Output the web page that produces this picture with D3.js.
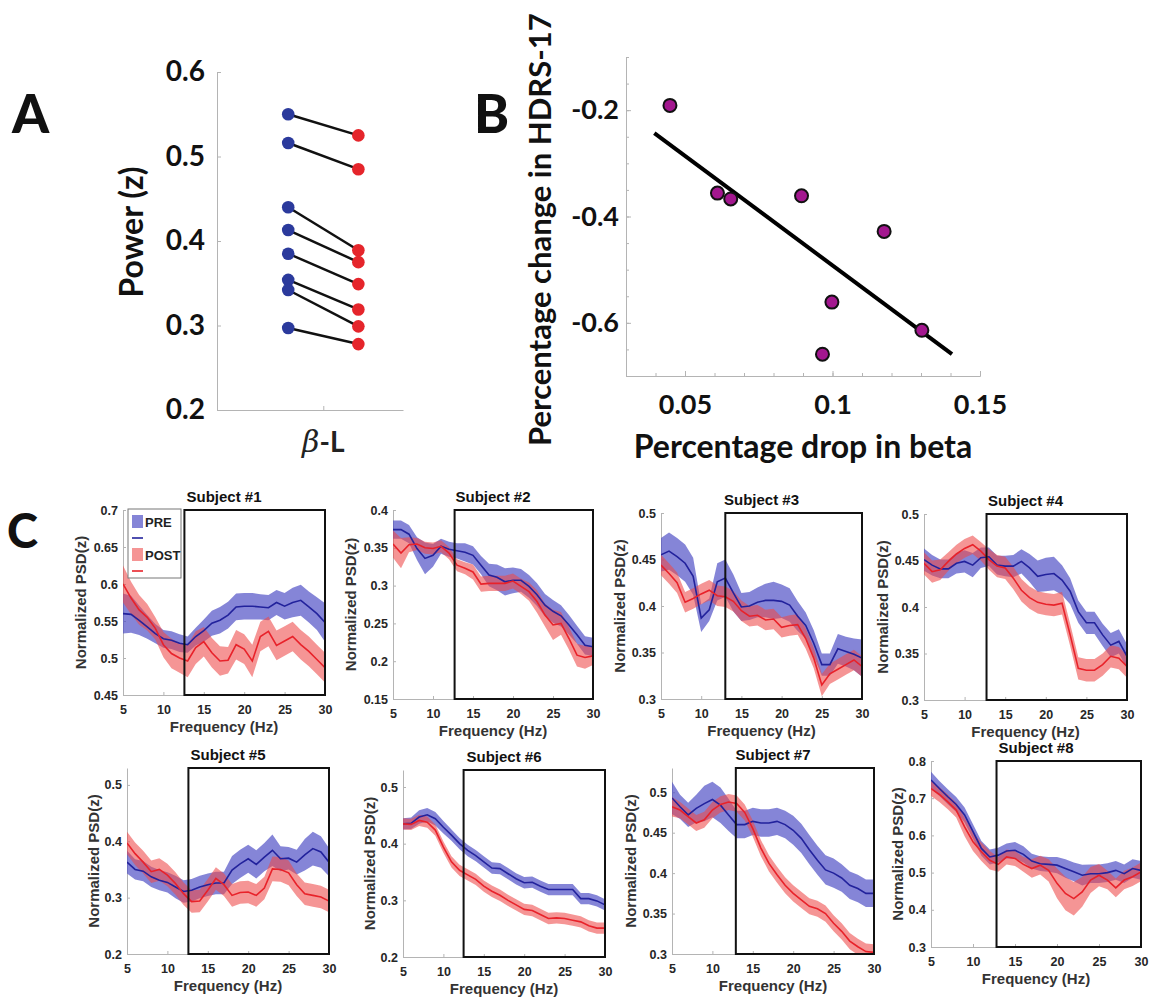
<!DOCTYPE html>
<html>
<head>
<meta charset="utf-8">
<script src="https://cdn.jsdelivr.net/npm/d3@7"></script>
<style>
  body { margin: 0; background: #fff; }
</style>
</head>
<body>
<svg id="fig" width="1150" height="998"></svg>
<script>
// ---- panel A: beta-L power, pre vs post ----
var powerTicks = [0.2, 0.3, 0.4, 0.5, 0.6];
var conditionX = [0.67, 1.33];   // PRE, POST positions around the beta-L category
var preBeta  = [0.550, 0.516, 0.440, 0.413, 0.385, 0.354, 0.342, 0.297];
var postBeta = [0.525, 0.485, 0.389, 0.375, 0.349, 0.319, 0.299, 0.278];

// ---- panel B: correlation ----
var betaDrop   = [0.0449, 0.0610, 0.0655, 0.0895, 0.1175, 0.0998, 0.1303, 0.0966];
var hdrsChange = [-0.191, -0.356, -0.367, -0.361, -0.428, -0.561, -0.614, -0.659];
var fitX = [0.0396, 0.1405];
var fitY = [-0.243, -0.659];
var betaTicks = [0.05, 0.1, 0.15];
var betaMinor = [0.03, 0.04, 0.05, 0.06, 0.07, 0.08, 0.09, 0.1, 0.11, 0.12, 0.13, 0.14, 0.15];
var hdrsTicks = [-0.6, -0.4, -0.2];
var hdrsMinor = [-0.7, -0.65, -0.6, -0.55, -0.5, -0.45, -0.4, -0.35, -0.3, -0.25, -0.2, -0.15, -0.1];

// ---- panel C: PSD per subject ----
var freqs = [5, 6, 7, 8, 9, 10, 11, 12, 13, 14, 15, 16, 17, 18, 19, 20, 21, 22, 23, 24, 25, 26, 27, 28, 29, 30];
var freqTicks = [5, 10, 15, 20, 25, 30];

var pre1 = [0.560,0.559,0.551,0.542,0.533,0.526,0.524,0.520,0.518,0.529,0.537,0.547,0.551,0.558,0.569,0.570,0.570,0.569,0.568,0.575,0.570,0.575,0.578,0.569,0.560,0.548];
var pre1Err = [0.027,0.025,0.020,0.016,0.013,0.012,0.012,0.012,0.011,0.012,0.015,0.017,0.018,0.018,0.018,0.018,0.018,0.017,0.017,0.017,0.018,0.020,0.021,0.021,0.022,0.026];
var post1 = [0.600,0.581,0.565,0.555,0.540,0.518,0.506,0.500,0.496,0.514,0.522,0.507,0.496,0.497,0.518,0.512,0.496,0.529,0.536,0.517,0.523,0.529,0.518,0.509,0.498,0.487];
var post1Err = [0.025,0.022,0.020,0.018,0.015,0.017,0.020,0.020,0.022,0.022,0.020,0.020,0.020,0.018,0.020,0.020,0.022,0.020,0.020,0.020,0.020,0.020,0.020,0.020,0.020,0.020];

var pre2 = [0.374,0.374,0.368,0.349,0.336,0.340,0.352,0.348,0.346,0.344,0.340,0.327,0.314,0.311,0.305,0.307,0.307,0.299,0.288,0.274,0.266,0.260,0.248,0.235,0.221,0.219];
var pre2Err = [0.012,0.012,0.012,0.015,0.021,0.015,0.010,0.010,0.010,0.012,0.012,0.012,0.015,0.017,0.018,0.017,0.015,0.015,0.015,0.015,0.015,0.014,0.013,0.012,0.012,0.012];
var post2 = [0.355,0.343,0.354,0.355,0.350,0.349,0.352,0.343,0.327,0.323,0.318,0.302,0.303,0.303,0.303,0.306,0.299,0.292,0.279,0.261,0.248,0.250,0.230,0.208,0.205,0.207];
var post2Err = [0.018,0.020,0.010,0.008,0.008,0.008,0.008,0.008,0.008,0.008,0.010,0.010,0.010,0.010,0.010,0.010,0.010,0.012,0.015,0.015,0.020,0.015,0.015,0.015,0.015,0.012];

var pre3 = [0.455,0.459,0.453,0.446,0.432,0.387,0.396,0.426,0.430,0.414,0.399,0.400,0.404,0.406,0.406,0.405,0.401,0.389,0.379,0.360,0.337,0.337,0.354,0.351,0.348,0.344];
var pre3Err = [0.018,0.020,0.020,0.020,0.020,0.015,0.012,0.020,0.020,0.020,0.015,0.015,0.016,0.018,0.020,0.018,0.018,0.016,0.014,0.014,0.012,0.012,0.016,0.016,0.017,0.020];
var post3 = [0.444,0.435,0.425,0.404,0.408,0.413,0.417,0.411,0.410,0.405,0.395,0.389,0.390,0.385,0.386,0.377,0.379,0.380,0.365,0.344,0.315,0.327,0.332,0.337,0.342,0.335];
var post3Err = [0.011,0.011,0.011,0.011,0.011,0.011,0.011,0.011,0.011,0.011,0.011,0.011,0.011,0.011,0.011,0.011,0.011,0.011,0.011,0.011,0.012,0.011,0.011,0.011,0.011,0.011];

var pre4 = [0.451,0.445,0.441,0.441,0.447,0.449,0.445,0.453,0.454,0.445,0.444,0.444,0.449,0.442,0.433,0.435,0.436,0.429,0.417,0.395,0.383,0.383,0.370,0.359,0.363,0.347];
var pre4Err = [0.012,0.011,0.010,0.010,0.011,0.012,0.013,0.011,0.010,0.010,0.011,0.012,0.013,0.015,0.017,0.018,0.018,0.016,0.014,0.012,0.012,0.012,0.012,0.013,0.013,0.013];
var post4 = [0.447,0.438,0.440,0.449,0.457,0.463,0.467,0.460,0.451,0.444,0.442,0.431,0.418,0.410,0.405,0.403,0.402,0.404,0.370,0.334,0.332,0.332,0.338,0.347,0.345,0.336];
var post4Err = [0.012,0.012,0.011,0.010,0.010,0.010,0.010,0.010,0.011,0.012,0.012,0.012,0.012,0.012,0.012,0.012,0.012,0.012,0.012,0.012,0.012,0.012,0.012,0.012,0.012,0.012];

var pre5 = [0.363,0.350,0.347,0.337,0.331,0.327,0.319,0.311,0.313,0.319,0.323,0.326,0.326,0.349,0.360,0.369,0.359,0.372,0.384,0.369,0.370,0.363,0.376,0.387,0.381,0.363];
var pre5Err = [0.020,0.018,0.018,0.018,0.018,0.018,0.020,0.020,0.020,0.020,0.020,0.020,0.020,0.025,0.025,0.025,0.025,0.025,0.028,0.022,0.020,0.022,0.028,0.030,0.028,0.025];
var post5 = [0.397,0.378,0.363,0.346,0.350,0.340,0.325,0.307,0.293,0.294,0.313,0.334,0.323,0.304,0.309,0.310,0.304,0.317,0.351,0.350,0.344,0.323,0.307,0.304,0.301,0.294];
var post5Err = [0.020,0.020,0.020,0.020,0.020,0.020,0.020,0.020,0.020,0.020,0.020,0.020,0.020,0.020,0.020,0.020,0.020,0.020,0.022,0.022,0.022,0.020,0.020,0.020,0.020,0.020];

var pre6 = [0.435,0.436,0.447,0.451,0.444,0.429,0.415,0.400,0.388,0.379,0.368,0.357,0.356,0.347,0.338,0.331,0.332,0.325,0.319,0.319,0.319,0.319,0.303,0.303,0.299,0.292];
var pre6Err = [0.010,0.010,0.012,0.012,0.012,0.011,0.010,0.010,0.010,0.010,0.010,0.010,0.010,0.010,0.010,0.010,0.010,0.010,0.010,0.010,0.010,0.010,0.010,0.010,0.010,0.010];
var post6 = [0.435,0.434,0.441,0.438,0.424,0.394,0.368,0.353,0.345,0.337,0.325,0.316,0.309,0.300,0.292,0.284,0.282,0.275,0.268,0.269,0.268,0.265,0.262,0.255,0.251,0.251];
var post6Err = [0.010,0.010,0.010,0.010,0.010,0.010,0.010,0.010,0.010,0.010,0.010,0.010,0.010,0.010,0.010,0.010,0.010,0.010,0.010,0.010,0.010,0.010,0.010,0.010,0.010,0.010];

var pre7 = [0.493,0.482,0.472,0.480,0.486,0.491,0.484,0.472,0.460,0.460,0.464,0.462,0.462,0.464,0.460,0.453,0.443,0.429,0.416,0.404,0.400,0.394,0.385,0.381,0.375,0.375];
var pre7Err = [0.020,0.015,0.015,0.017,0.022,0.022,0.022,0.020,0.017,0.017,0.017,0.017,0.017,0.017,0.017,0.018,0.018,0.018,0.018,0.018,0.018,0.017,0.017,0.017,0.017,0.017];
var post7 = [0.482,0.478,0.470,0.462,0.466,0.478,0.485,0.488,0.486,0.475,0.455,0.431,0.412,0.398,0.385,0.375,0.367,0.359,0.356,0.350,0.338,0.328,0.316,0.309,0.303,0.302];
var post7Err = [0.012,0.010,0.010,0.010,0.010,0.010,0.010,0.010,0.010,0.010,0.010,0.010,0.010,0.010,0.010,0.010,0.010,0.010,0.010,0.010,0.010,0.010,0.010,0.010,0.010,0.010];

var pre8 = [0.749,0.726,0.704,0.683,0.655,0.610,0.565,0.542,0.547,0.558,0.560,0.549,0.531,0.524,0.522,0.520,0.511,0.502,0.493,0.497,0.497,0.500,0.506,0.497,0.511,0.506];
var pre8Err = [0.022,0.020,0.020,0.020,0.020,0.020,0.020,0.020,0.020,0.020,0.022,0.022,0.020,0.020,0.020,0.022,0.025,0.025,0.028,0.025,0.025,0.025,0.025,0.025,0.025,0.025];
var post8 = [0.726,0.710,0.690,0.668,0.623,0.583,0.556,0.533,0.522,0.542,0.538,0.522,0.511,0.520,0.506,0.471,0.444,0.430,0.448,0.480,0.493,0.480,0.459,0.480,0.489,0.502];
var post8Err = [0.020,0.020,0.020,0.020,0.025,0.025,0.025,0.025,0.020,0.020,0.020,0.020,0.025,0.025,0.030,0.040,0.045,0.045,0.040,0.035,0.030,0.025,0.025,0.025,0.025,0.025];

var subjects = [
  { name: "Subject #1", pre: pre1, preErr: pre1Err, post: post1, postErr: post1Err, yDomain: [0.45, 0.7],  yTicks: [0.45, 0.5, 0.55, 0.6, 0.65, 0.7], bandStart: 12.6 },
  { name: "Subject #2", pre: pre2, preErr: pre2Err, post: post2, postErr: post2Err, yDomain: [0.15, 0.4],  yTicks: [0.15, 0.2, 0.25, 0.3, 0.35, 0.4], bandStart: 12.7 },
  { name: "Subject #3", pre: pre3, preErr: pre3Err, post: post3, postErr: post3Err, yDomain: [0.3, 0.5],   yTicks: [0.3, 0.35, 0.4, 0.45, 0.5], bandStart: 13.0 },
  { name: "Subject #4", pre: pre4, preErr: pre4Err, post: post4, postErr: post4Err, yDomain: [0.3, 0.5],   yTicks: [0.3, 0.35, 0.4, 0.45, 0.5], bandStart: 12.7 },
  { name: "Subject #5", pre: pre5, preErr: pre5Err, post: post5, postErr: post5Err, yDomain: [0.2, 0.53],  yTicks: [0.2, 0.3, 0.4, 0.5], bandStart: 12.6 },
  { name: "Subject #6", pre: pre6, preErr: pre6Err, post: post6, postErr: post6Err, yDomain: [0.2, 0.53],  yTicks: [0.2, 0.3, 0.4, 0.5], bandStart: 12.5 },
  { name: "Subject #7", pre: pre7, preErr: pre7Err, post: post7, postErr: post7Err, yDomain: [0.3, 0.53],  yTicks: [0.3, 0.35, 0.4, 0.45, 0.5], bandStart: 12.9 },
  { name: "Subject #8", pre: pre8, preErr: pre8Err, post: post8, postErr: post8Err, yDomain: [0.3, 0.8],   yTicks: [0.3, 0.4, 0.5, 0.6, 0.7, 0.8], bandStart: 12.8 }
];

// pixel layout of the 8 small axes
var layout = [
  { left: 123, right: 325, top: 510, bottom: 695, labelOff: 42 },
  { left: 393, right: 593, top: 510, bottom: 699, labelOff: 42 },
  { left: 661, right: 862, top: 513, bottom: 699, labelOff: 41 },
  { left: 924, right: 1127, top: 514, bottom: 700, labelOff: 41 },
  { left: 127, right: 329, top: 768, bottom: 954, labelOff: 33 },
  { left: 403, right: 605, top: 770, bottom: 957, labelOff: 33 },
  { left: 672, right: 874, top: 768, bottom: 954, labelOff: 41 },
  { left: 931, right: 1141, top: 761, bottom: 947, labelOff: 33 }
];

var svg = d3.select("#fig");
var calibri = "Lato, 'Open Sans', sans-serif";
var arial = "'Liberation Sans', Arial, sans-serif";
var axisGray = "#b4b4b4";

function styleAxis(g, fontFamily, fontSize, color) {
  g.select(".domain").attr("stroke", axisGray).attr("stroke-width", 1);
  g.selectAll(".tick line").attr("stroke", axisGray);
  g.selectAll(".tick text")
    .attr("font-family", fontFamily)
    .attr("font-size", fontSize)
    .attr("font-weight", "bold")
    .attr("fill", color);
}

// ================= Panel A =================
var xA = d3.scaleLinear().domain([0, 1.75]).range([217, 403]);
var yA = d3.scaleLinear().domain([0.2, 0.6]).range([410, 72]);

var gA = svg.append("g");
gA.append("g")
  .attr("transform", "translate(217,0)")
  .call(d3.axisLeft(yA).tickValues(powerTicks).tickFormat(function(d) { return d.toFixed(1); })
        .tickSize(-4).tickSizeOuter(0).tickPadding(12))
  .call(styleAxis, calibri, 28, "#111");
gA.append("g")
  .attr("transform", "translate(0,410)")
  .call(d3.axisBottom(xA).tickValues([1]).tickFormat("").tickSize(-4).tickSizeOuter(0))
  .call(styleAxis, calibri, 28, "#111");

// x tick label  "β-L"
var bl = gA.append("text")
  .attr("x", xA(1)).attr("y", 452)
  .attr("text-anchor", "middle")
  .attr("font-size", 28)
  .attr("fill", "#222");
bl.append("tspan").attr("font-family", "'DejaVu Serif', serif").attr("font-style", "italic").attr("font-size", 30).text("β");
bl.append("tspan").attr("font-family", calibri).attr("font-weight", "bold").text("-L");

gA.append("text")
  .attr("transform", "translate(143,232) rotate(-90)")
  .attr("text-anchor", "middle")
  .attr("font-family", calibri).attr("font-weight", "bold").attr("font-size", 32)
  .attr("fill", "#111")
  .text("Power (z)");

gA.selectAll(".pair")
  .data(preBeta)
  .enter()
  .append("line")
  .attr("class", "pair")
  .attr("x1", xA(conditionX[0]))
  .attr("y1", function(d) { return yA(d); })
  .attr("x2", xA(conditionX[1]))
  .attr("y2", function(d, i) { return yA(postBeta[i]); })
  .attr("stroke", "#111")
  .attr("stroke-width", 2.5);

gA.selectAll(".preDot")
  .data(preBeta)
  .enter()
  .append("circle")
  .attr("cx", xA(conditionX[0]))
  .attr("cy", function(d) { return yA(d); })
  .attr("r", 6.3)
  .attr("fill", "#2b3a9c");

gA.selectAll(".postDot")
  .data(postBeta)
  .enter()
  .append("circle")
  .attr("cx", xA(conditionX[1]))
  .attr("cy", function(d) { return yA(d); })
  .attr("r", 6.3)
  .attr("fill", "#e5252b");

svg.append("text").attr("x", 12).attr("y", 133)
  .attr("font-family", calibri).attr("font-weight", 900).attr("font-size", 53).attr("fill", "#111").text("A");

// ================= Panel B =================
var xB = d3.scaleLinear().domain([0.03, 0.15]).range([626, 980]);
var yB = d3.scaleLinear().domain([-0.7, -0.1]).range([376, 57]);

var gB = svg.append("g");
gB.append("g")
  .attr("transform", "translate(626,0)")
  .call(d3.axisLeft(yB).tickValues(hdrsMinor).tickFormat("").tickSize(-3).tickSizeOuter(0))
  .call(styleAxis, calibri, 27, "#111");
gB.append("g")
  .attr("transform", "translate(626,0)")
  .call(d3.axisLeft(yB).tickValues(hdrsTicks).tickFormat(function(d) { return d.toFixed(1); })
        .tickSize(-5).tickSizeOuter(0).tickPadding(7))
  .call(styleAxis, calibri, 27, "#111");
gB.append("g")
  .attr("transform", "translate(0,376)")
  .call(d3.axisBottom(xB).tickValues(betaMinor).tickFormat("").tickSize(-3).tickSizeOuter(0))
  .call(styleAxis, calibri, 27, "#111");
gB.append("g")
  .attr("transform", "translate(0,376)")
  .call(d3.axisBottom(xB).tickValues(betaTicks).tickFormat(function(d) { return String(d); })
        .tickSize(-5).tickSizeOuter(0).tickPadding(19))
  .call(styleAxis, calibri, 27, "#111");

gB.append("line")
  .attr("x1", xB(fitX[0])).attr("y1", yB(fitY[0]))
  .attr("x2", xB(fitX[1])).attr("y2", yB(fitY[1]))
  .attr("stroke", "#000").attr("stroke-width", 4);

gB.selectAll(".pt")
  .data(betaDrop)
  .enter()
  .append("circle")
  .attr("cx", function(d) { return xB(d); })
  .attr("cy", function(d, i) { return yB(hdrsChange[i]); })
  .attr("r", 6.5)
  .attr("fill", "#a3178f")
  .attr("stroke", "#111")
  .attr("stroke-width", 2);

gB.append("text")
  .attr("x", 803).attr("y", 458)
  .attr("text-anchor", "middle")
  .attr("font-family", calibri).attr("font-weight", "bold").attr("font-size", 32).attr("fill", "#111")
  .text("Percentage drop in beta");
gB.append("text")
  .attr("transform", "translate(551,446) rotate(-90)")
  .attr("text-anchor", "start")
  .attr("font-family", calibri).attr("font-weight", "bold").attr("font-size", 31).attr("fill", "#111")
  .text("Percentage change in HDRS-17");

svg.append("text").attr("x", 474).attr("y", 133)
  .attr("font-family", calibri).attr("font-weight", 900).attr("font-size", 53).attr("fill", "#111").text("B");

// ================= Panel C =================
svg.append("text").attr("x", 7).attr("y", 548)
  .attr("font-family", calibri).attr("font-weight", 900).attr("font-size", 47).attr("fill", "#111").text("C");

var preBand = "#4b4bc4", postBand = "#ee4848";
var preLine = "#22229c", postLine = "#e8222a";
var tickFmt = function(d) { return String(+d.toFixed(2)); };

subjects.forEach(function(s, k) {
  var L = layout[k];
  var x = d3.scaleLinear().domain([5, 30]).range([L.left, L.right]);
  var y = d3.scaleLinear().domain(s.yDomain).range([L.bottom, L.top]);
  var g = svg.append("g");

  var clipId = "clip" + k;
  g.append("clipPath").attr("id", clipId)
    .append("rect")
    .attr("x", L.left).attr("y", L.top)
    .attr("width", L.right - L.left).attr("height", L.bottom - L.top);

  g.append("g")
    .attr("transform", "translate(" + L.left + ",0)")
    .call(d3.axisLeft(y).tickValues(s.yTicks).tickFormat(tickFmt).tickSize(-3).tickSizeOuter(0).tickPadding(5))
    .call(styleAxis, arial, 12.5, "#262626");
  g.append("g")
    .attr("transform", "translate(0," + L.bottom + ")")
    .call(d3.axisBottom(x).tickValues(freqTicks).tickSize(-3).tickSizeOuter(0).tickPadding(10))
    .call(styleAxis, arial, 12.5, "#262626");

  var area = function(m, e) {
    return d3.area()
      .x(function(d, i) { return x(freqs[i]); })
      .y0(function(d, i) { return y(m[i] - e[i]); })
      .y1(function(d, i) { return y(m[i] + e[i]); });
  };
  var line = d3.line()
    .x(function(d, i) { return x(freqs[i]); })
    .y(function(d) { return y(d); });

  var plot = g.append("g").attr("clip-path", "url(#" + clipId + ")");
  plot.append("path").datum(s.pre).attr("d", area(s.pre, s.preErr))
    .attr("fill", preBand).attr("fill-opacity", 0.68);
  plot.append("path").datum(s.post).attr("d", area(s.post, s.postErr))
    .attr("fill", postBand).attr("fill-opacity", 0.58);
  plot.append("path").datum(s.pre).attr("d", line)
    .attr("fill", "none").attr("stroke", preLine).attr("stroke-width", 1.6);
  plot.append("path").datum(s.post).attr("d", line)
    .attr("fill", "none").attr("stroke", postLine).attr("stroke-width", 1.6);

  // beta window box
  g.append("rect")
    .attr("x", x(s.bandStart)).attr("y", L.top)
    .attr("width", x(30) - x(s.bandStart)).attr("height", L.bottom - L.top)
    .attr("fill", "none").attr("stroke", "#111").attr("stroke-width", 2);

  g.append("text")
    .attr("x", (L.left + L.right) / 2).attr("y", L.top - 8)
    .attr("text-anchor", "middle")
    .attr("font-family", arial).attr("font-weight", "bold").attr("font-size", 15).attr("fill", "#111")
    .text(s.name);
  g.append("text")
    .attr("x", (L.left + L.right) / 2).attr("y", L.bottom + 37)
    .attr("text-anchor", "middle")
    .attr("font-family", arial).attr("font-weight", "bold").attr("font-size", 15).attr("fill", "#333")
    .text("Frequency (Hz)");
  g.append("text")
    .attr("transform", "translate(" + (L.left - L.labelOff + 5) + "," + ((L.top + L.bottom) / 2) + ") rotate(-90)")
    .attr("text-anchor", "middle")
    .attr("font-family", arial).attr("font-weight", "bold").attr("font-size", 15).attr("fill", "#333")
    .text("Normalized PSD(z)");

  if (k === 0) {
    var lg = g.append("g").attr("transform", "translate(128,509)");
    lg.append("rect").attr("width", 53).attr("height", 69)
      .attr("fill", "#fff").attr("stroke", "#777").attr("stroke-width", 1);
    lg.append("rect").attr("x", 4).attr("y", 6).attr("width", 11).attr("height", 13)
      .attr("fill", preBand).attr("fill-opacity", 0.68);
    lg.append("text").attr("x", 17).attr("y", 18)
      .attr("font-family", arial).attr("font-weight", "bold").attr("font-size", 13).attr("fill", "#222").text("PRE");
    lg.append("line").attr("x1", 4).attr("x2", 15).attr("y1", 29).attr("y2", 29)
      .attr("stroke", preLine).attr("stroke-width", 1.6);
    lg.append("rect").attr("x", 4).attr("y", 39).attr("width", 11).attr("height", 13)
      .attr("fill", postBand).attr("fill-opacity", 0.58);
    lg.append("text").attr("x", 17).attr("y", 51)
      .attr("font-family", arial).attr("font-weight", "bold").attr("font-size", 13).attr("fill", "#222").text("POST");
    lg.append("line").attr("x1", 4).attr("x2", 15).attr("y1", 62).attr("y2", 62)
      .attr("stroke", postLine).attr("stroke-width", 1.6);
  }
});
</script>
</body>
</html>
